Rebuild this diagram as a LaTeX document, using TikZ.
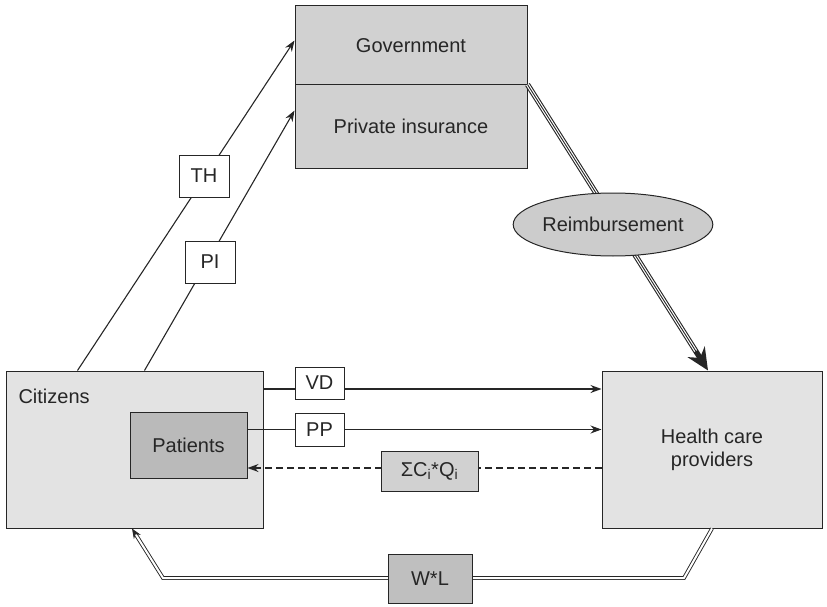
\documentclass[tikz,border=0pt]{standalone}
\usepackage{fontspec}
\setmainfont{Liberation Sans}
\usetikzlibrary{arrows.meta,shapes.geometric}

\begin{document}
\begin{tikzpicture}[x=1pt,y=-1pt,
  every node/.style={font=\fontsize{20}{23}\selectfont,text=black!85},
  big/.style={draw=black!85,line width=1pt,fill=black!11,inner sep=0pt,align=center},
  lbl/.style={draw=black!85,line width=1pt,fill=white,inner sep=0pt,minimum width=50pt},
  ar/.style={draw=black!85,line width=1.1pt,-{Stealth[length=11pt,width=8pt]}}]
\useasboundingbox (0,0) rectangle (827,607);
% actors
\node[big,fill=black!18,minimum width=232pt,minimum height=79pt] (gov) at (411,45.5) {Government};
\node[big,fill=black!18,minimum width=232pt,minimum height=83pt] (priv) at (411,126.5) {Private insurance};
\node[big,minimum width=257pt,minimum height=157pt] (cit) at (134.5,449.5) {};
\node[anchor=west] (citt) at (15,396) {Citizens};
\node[big,fill=black!27,minimum width=117pt,minimum height=66pt] (pat) at (188.5,445) {Patients};
\node[big,minimum width=220pt,minimum height=157pt] (hcp) at (712,449.5) {Health care\\providers};
% money flows
\draw[ar] ([xshift=72pt]cit.north west) -- ([yshift=5pt]gov.west);
\draw[ar] ([xshift=139pt]cit.north west) -- ([yshift=16pt]priv.west);
\draw[ar] (cit.east |- 0,389) -- (hcp.west |- 0,389);
\draw[ar] (pat.east |- 0,429.5) -- (hcp.west |- 0,429.5);
\draw[ar,dash pattern=on 7pt off 4pt] (hcp.west |- 0,468) -- (pat.east |- 0,468);
% reimbursement (triple line)
\coordinate (rt) at (hcp.north -| 708,0);
\draw[black!85,line width=5.4pt,-{Stealth[length=22pt,width=20pt]}] (priv.north east) -- (rt);
\draw[white,line width=3.2pt,shorten >=23pt] (priv.north east) -- (rt);
\draw[black!85,line width=0.9pt,shorten >=21pt] (priv.north east) -- (rt);
\node[ellipse,draw=black!85,line width=1pt,fill=black!20,minimum width=182pt,minimum height=63pt,inner sep=0pt] (reimb) at (613,224.5) {Reimbursement};
% wages
\coordinate (w1) at (684,578);
\coordinate (w2) at (163,578);
\draw[black!85,double,double distance=2pt,line width=0.9pt,-{Stealth[length=10pt,width=8pt]}]
  (hcp.south -| 712,0) -- (w1) -- (w2) -- (cit.south -| 132,0);
% labels
\node[lbl,minimum height=42pt] (th) at (204,176) {TH};
\node[lbl,minimum height=42pt] (pi) at (210,262) {PI};
\node[lbl,minimum width=49pt,minimum height=32pt] (vd) at (319.5,383) {VD};
\node[lbl,minimum width=49pt,minimum height=33pt] (pp) at (319.5,429.5) {PP};
\node[lbl,fill=black!18,minimum width=97pt,minimum height=40pt] (cq) at (429.5,471) {ΣC\textsubscript{i}*Q\textsubscript{i}};
\node[lbl,fill=black!25,minimum width=84pt,minimum height=49pt] (wl) at (430,578.5) {W*L};
\end{tikzpicture}
\end{document}
